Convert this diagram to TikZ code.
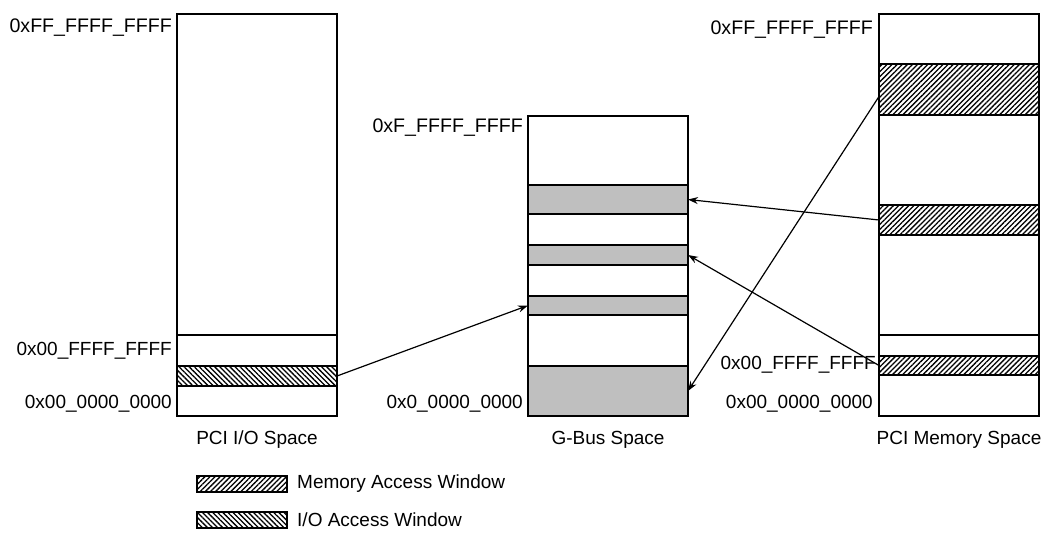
\documentclass[tikz,border=0pt]{standalone}
\usepackage{fontspec}
\setmainfont{Liberation Sans}
\usetikzlibrary{patterns.meta,arrows.meta}

\begin{document}
\begin{tikzpicture}[x=1pt,y=-1pt,
    font=\fontsize{19}{22}\selectfont,
    band/.style={draw, line width=1.2pt, minimum width=160pt, inner sep=0pt, outer sep=0pt, anchor=north west},
    graywin/.style={band, fill=black!25},
    memwin/.style={band, pattern={Lines[angle=45,distance=3.6pt,line width=1.3pt]}},
    iowin/.style={band, pattern={Lines[angle=-45,distance=3.6pt,line width=1.3pt]}},
    link/.style={line width=1.2pt, -{Stealth[length=10pt,width=7pt]}},
    addr/.style={anchor=east, inner sep=0pt},
    topaddr/.style={addr, font=\fontsize{19.6}{22}\selectfont}]
    \useasboundingbox (0,0) rectangle (1045,534);
    % PCI I/O space
    \node[band, minimum height=321pt] (io0) at (177,14) {};
    \node[band, minimum height=31pt] (io1) at (io0.south west) {};
    \node[iowin, minimum height=20pt] (io2) at (io1.south west) {};
    \node[band, minimum height=30pt] (io3) at (io2.south west) {};
    \node[topaddr] (iotop) at ([xshift=-5pt,yshift=-14pt]io0.north west) {0xFF\_FFFF\_FFFF};
    \node[addr] (iomid) at ([xshift=-5pt]io1.west) {0x00\_FFFF\_FFFF};
    \node[addr] (iobot) at ([xshift=-5pt,yshift=-3pt]io3.west) {0x00\_0000\_0000};
    \node (iocap) at ([yshift=-24pt]io3.south) {PCI I/O Space};
    % G-Bus space
    \node[band, minimum height=69pt] (g0) at (528,116) {};
    \node[graywin, minimum height=29pt] (g1) at (g0.south west) {};
    \node[band, minimum height=31pt] (g2) at (g1.south west) {};
    \node[graywin, minimum height=20pt] (g3) at (g2.south west) {};
    \node[band, minimum height=31pt] (g4) at (g3.south west) {};
    \node[graywin, minimum height=19pt] (g5) at (g4.south west) {};
    \node[band, minimum height=51pt] (g6) at (g5.south west) {};
    \node[graywin, minimum height=50pt] (g7) at (g6.south west) {};
    \node[topaddr] (gtop) at ([xshift=-5pt,yshift=-12pt]g0.north west) {0xF\_FFFF\_FFFF};
    \node[addr] (gbot) at ([xshift=-5pt,yshift=12pt]g7.south west) {0x0\_0000\_0000};
    \node (gcap) at ([yshift=-24pt]g7.south) {G-Bus Space};
    % PCI memory space
    \node[band, minimum height=50pt] (m0) at (879,14) {};
    \node[memwin, minimum height=51pt] (m1) at (m0.south west) {};
    \node[band, minimum height=90pt] (m2) at (m1.south west) {};
    \node[memwin, minimum height=30pt] (m3) at (m2.south west) {};
    \node[band, minimum height=100pt] (m4) at (m3.south west) {};
    \node[band, minimum height=21pt] (m5) at (m4.south west) {};
    \node[memwin, minimum height=19pt] (m6) at (m5.south west) {};
    \node[band, minimum height=41pt] (m7) at (m6.south west) {};
    \node[topaddr] (mtop) at ([xshift=-6pt,yshift=-16pt]m0.north west) {0xFF\_FFFF\_FFFF};
    \node[addr] (mmid) at ([xshift=-3pt,yshift=1pt]m6.west) {0x00\_FFFF\_FFFF};
    \node[addr] (mbot) at ([xshift=-6pt,yshift=12pt]m7.south west) {0x00\_0000\_0000};
    \node (mcap) at ([yshift=-24pt]m7.south) {PCI Memory Space};
    % windows
    \draw[link] (io2.east) -- (g5.west);
    \draw[link] (m3.west) -- (g1.east);
    \draw[link] (m6.west) -- (g3.east);
    \draw[link] ([yshift=-7pt]m1.west) -- (g7.east);
    % legend
    \node[memwin, minimum width=90pt, minimum height=16pt] (keymem) at (197,476) {};
    \node[anchor=west, inner sep=0pt] (keymemtxt) at ([xshift=10pt]keymem.east) {Memory Access Window};
    \node[iowin, minimum width=90pt, minimum height=16pt] (keyio) at (197,512) {};
    \node[anchor=west, inner sep=0pt] (keyiotxt) at ([xshift=10pt]keyio.east) {I/O Access Window};
\end{tikzpicture}
\end{document}
